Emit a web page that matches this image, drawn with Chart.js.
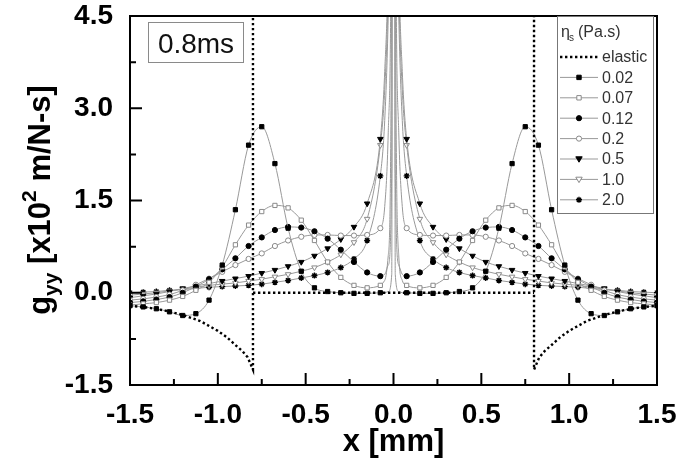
<!DOCTYPE html>
<html>
<head>
<meta charset="utf-8">
<script src="https://cdn.jsdelivr.net/npm/chart.js@4"></script>
<style>
  body { margin: 0; background: #fff; }
  canvas { display: block; }
</style>
</head>
<body>
<canvas id="chart" width="677" height="460"></canvas>
<script>
// shared x positions (mm); the points close to 0 only shape the central spike
const xGrid = [-1.5, -1.425, -1.35, -1.275, -1.2, -1.125, -1.05, -0.975, -0.9, -0.825,
    -0.75, -0.675, -0.6, -0.525, -0.45, -0.375, -0.3, -0.225, -0.15, -0.075,
    -0.05, -0.03, -0.01, 0, 0.01, 0.03, 0.05,
    0.075, 0.15, 0.225, 0.3, 0.375, 0.45, 0.525, 0.6, 0.675, 0.75,
    0.825, 0.9, 0.975, 1.05, 1.125, 1.2, 1.275, 1.35, 1.425, 1.5];

const eta002 = [-0.21, -0.23, -0.26, -0.31, -0.37, -0.34, -0.12, 0.45, 1.35, 2.4, 2.7, 2.1, 1.05, 0.35, 0.08, 0.02, 0.0, -0.01, -0.01, 0.0,
    0.0, 0.02, 0.3, 30, 0.3, 0.02, 0.0,
    0.0, -0.01, -0.01, 0.0, 0.02, 0.08, 0.35, 1.05, 2.1, 2.7, 2.4, 1.35, 0.45, -0.12, -0.34, -0.37, -0.31, -0.26, -0.23, -0.21];
const eta007 = [-0.2, -0.18, -0.16, -0.12, -0.06, 0.04, 0.17, 0.42, 0.78, 1.1, 1.32, 1.42, 1.38, 1.18, 0.85, 0.5, 0.25, 0.12, 0.08, 0.12,
    0.2, 0.6, 5.5, 30, 5.5, 0.6, 0.2,
    0.12, 0.08, 0.12, 0.25, 0.5, 0.85, 1.18, 1.38, 1.42, 1.32, 1.1, 0.78, 0.42, 0.17, 0.04, -0.06, -0.12, -0.16, -0.18, -0.2];
const eta012 = [-0.16, -0.14, -0.11, -0.07, 0.0, 0.1, 0.22, 0.38, 0.56, 0.76, 0.9, 1.02, 1.07, 1.06, 1.0, 0.88, 0.7, 0.5, 0.33, 0.27,
    0.3, 0.45, 2.0, 30, 2.0, 0.45, 0.3,
    0.27, 0.33, 0.5, 0.7, 0.88, 1.0, 1.06, 1.07, 1.02, 0.9, 0.76, 0.56, 0.38, 0.22, 0.1, 0.0, -0.07, -0.11, -0.14, -0.16];
const eta02 = [-0.12, -0.1, -0.07, -0.03, 0.04, 0.13, 0.23, 0.34, 0.45, 0.55, 0.64, 0.76, 0.85, 0.91, 0.94, 0.94, 0.93, 0.93, 0.94, 1.05,
    1.4, 2.6, 8, 30, 8, 2.6, 1.4,
    1.05, 0.94, 0.93, 0.93, 0.94, 0.94, 0.91, 0.85, 0.76, 0.64, 0.55, 0.45, 0.34, 0.23, 0.13, 0.04, -0.03, -0.07, -0.1, -0.12];
const eta05 = [-0.08, -0.05, -0.02, 0.02, 0.07, 0.11, 0.15, 0.19, 0.23, 0.27, 0.32, 0.37, 0.43, 0.5, 0.6, 0.72, 0.87, 1.07, 1.45, 2.5,
    3.6, 5.5, 12, 30, 12, 5.5, 3.6,
    2.5, 1.45, 1.07, 0.87, 0.72, 0.6, 0.5, 0.43, 0.37, 0.32, 0.27, 0.23, 0.19, 0.15, 0.11, 0.07, 0.02, -0.02, -0.05, -0.08];
const eta10 = [-0.04, -0.02, 0.0, 0.03, 0.06, 0.09, 0.12, 0.14, 0.16, 0.19, 0.22, 0.26, 0.3, 0.35, 0.41, 0.5, 0.62, 0.82, 1.2, 2.4,
    3.3, 5.0, 11, 30, 11, 5.0, 3.3,
    2.4, 1.2, 0.82, 0.62, 0.5, 0.41, 0.35, 0.3, 0.26, 0.22, 0.19, 0.16, 0.14, 0.12, 0.09, 0.06, 0.03, 0.0, -0.02, -0.04];
const eta20 = [0.0, 0.01, 0.02, 0.04, 0.05, 0.07, 0.09, 0.1, 0.11, 0.12, 0.14, 0.17, 0.2, 0.24, 0.28, 0.33, 0.41, 0.55, 0.85, 1.9,
    2.8, 4.5, 10, 30, 10, 4.5, 2.8,
    1.9, 0.85, 0.55, 0.41, 0.33, 0.28, 0.24, 0.2, 0.17, 0.14, 0.12, 0.11, 0.1, 0.09, 0.07, 0.05, 0.04, 0.02, 0.01, 0.0];

// elastic solution: null values break the dotted path
const elasticX = [-1.5, -1.4, -1.3, -1.2, -1.1, -1.0, -0.95, -0.9, -0.86, -0.83, -0.8, -0.8, -0.8, -0.8,
    0.8, 0.8, 0.8, 0.8, 0.83, 0.86, 0.9, 0.95, 1.0, 1.1, 1.2, 1.3, 1.4, 1.5];
const elasticY = [-0.21, -0.24, -0.29, -0.36, -0.46, -0.62, -0.72, -0.85, -0.95, -1.05, -1.25, 4.6, null, 0,
    0, null, 4.6, -1.25, -1.05, -0.95, -0.85, -0.72, -0.62, -0.46, -0.36, -0.29, -0.24, -0.21];

const seriesLabels = ['0.02', '0.07', '0.12', '0.2', '0.5', '1.0', '2.0'];
const seriesValues = [eta002, eta007, eta012, eta02, eta05, eta10, eta20];
const xTicks = [-1.5, -1.0, -0.5, 0.0, 0.5, 1.0, 1.5];
const yTicks = [-1.5, 0.0, 1.5, 3.0, 4.5];

const markerStyles = [
    { style: 'rect', fill: '#000', stroke: '#000', r: 3 },
    { style: 'rect', fill: '#fff', stroke: '#8a8a8a', r: 3 },
    { style: 'circle', fill: '#000', stroke: '#000', r: 2.6 },
    { style: 'circle', fill: '#fff', stroke: '#8a8a8a', r: 2.6 },
    { style: 'triangle', fill: '#000', stroke: '#000', r: 3.2 },
    { style: 'triangle', fill: '#fff', stroke: '#8a8a8a', r: 3.2 },
    { style: 'star', fill: '#000', stroke: '#000', r: 3 }
];

const lineGray = '#999';

const datasets = [{
    label: 'elastic',
    data: elasticX.map((x, i) => ({ x: x, y: elasticY[i] })),
    borderColor: '#000',
    borderWidth: 2.4,
    borderDash: [2.4, 2.6],
    pointRadius: 0,
    tension: 0,
    spanGaps: false,
    clip: 0
}];

seriesValues.forEach((vals, k) => {
    const m = markerStyles[k];
    datasets.push({
        label: seriesLabels[k],
        data: xGrid.map((x, i) => ({ x: x, y: vals[i] })),
        borderColor: lineGray,
        borderWidth: 1,
        cubicInterpolationMode: 'monotone',
        tension: 0.4,
        pointStyle: m.style,
        pointRotation: m.style === 'triangle' ? 180 : 0,
        pointBackgroundColor: m.fill,
        pointBorderColor: m.stroke,
        pointBorderWidth: m.style === 'star' ? 1.4 : 1,
        pointRadius: ctx => (ctx.raw && Math.abs(ctx.raw.x) < 0.06) ? 0 : m.r,
        clip: 0
    });
});

function drawMarker(ctx, m, x, y) {
    ctx.save();
    ctx.fillStyle = m.fill;
    ctx.strokeStyle = m.stroke;
    ctx.lineWidth = m.style === 'star' ? 1.4 : 1;
    ctx.beginPath();
    if (m.style === 'rect') {
        ctx.rect(x - 2.2, y - 2.2, 4.4, 4.4);
        ctx.fill(); ctx.stroke();
    } else if (m.style === 'circle') {
        ctx.arc(x, y, 2.6, 0, Math.PI * 2);
        ctx.fill(); ctx.stroke();
    } else if (m.style === 'triangle') {
        ctx.moveTo(x - 3.2, y - 2.2);
        ctx.lineTo(x + 3.2, y - 2.2);
        ctx.lineTo(x, y + 3.2);
        ctx.closePath();
        ctx.fill(); ctx.stroke();
    } else {
        for (let a = 0; a < 4; a++) {
            const t = a * Math.PI / 4;
            ctx.moveTo(x - 3 * Math.cos(t), y - 3 * Math.sin(t));
            ctx.lineTo(x + 3 * Math.cos(t), y + 3 * Math.sin(t));
        }
        ctx.stroke();
    }
    ctx.restore();
}

const decorations = {
    id: 'decorations',
    afterDraw(chart) {
        const { ctx, chartArea } = chart;
        const xs = chart.scales.x, ys = chart.scales.y;
        const L = chartArea.left, R = chartArea.right, T = chartArea.top, B = chartArea.bottom;
        ctx.save();

        // frame
        ctx.strokeStyle = '#000';
        ctx.lineWidth = 2;
        ctx.strokeRect(L, T, R - L, B - T);

        // inward ticks, major and minor
        ctx.beginPath();
        xTicks.forEach((v, i) => {
            const px = xs.getPixelForValue(v);
            ctx.moveTo(px, B); ctx.lineTo(px, B - 12);
            if (i < xTicks.length - 1) {
                const pm = xs.getPixelForValue(v + 0.25);
                ctx.moveTo(pm, B); ctx.lineTo(pm, B - 6);
            }
        });
        yTicks.forEach((v, i) => {
            const py = ys.getPixelForValue(v);
            ctx.moveTo(L, py); ctx.lineTo(L + 12, py);
            if (i < yTicks.length - 1) {
                const pm = ys.getPixelForValue(v + 0.75);
                ctx.moveTo(L, pm); ctx.lineTo(L + 6, pm);
            }
        });
        ctx.stroke();

        // tick labels
        ctx.fillStyle = '#000';
        ctx.font = 'bold 28px "Liberation Sans", Arial, sans-serif';
        ctx.textAlign = 'center';
        ctx.textBaseline = 'alphabetic';
        xTicks.forEach(v => ctx.fillText(v.toFixed(1), xs.getPixelForValue(v), B + 38));
        ctx.textAlign = 'right';
        ctx.textBaseline = 'middle';
        yTicks.forEach(v => ctx.fillText(v.toFixed(1), L - 17, ys.getPixelForValue(v)));

        // x title
        ctx.font = 'bold 31px "Liberation Sans", Arial, sans-serif';
        ctx.textAlign = 'center';
        ctx.textBaseline = 'alphabetic';
        ctx.fillText('x [mm]', (L + R) / 2, 451);

        // y title with sub/superscript
        const parts = [
            ['g', 31, 0], ['yy', 21, 8], [' [x10', 31, 0], ['2', 21, -14], [' m/N-s]', 31, 0]
        ];
        let total = 0;
        parts.forEach(p => {
            ctx.font = 'bold ' + p[1] + 'px "Liberation Sans", Arial, sans-serif';
            total += ctx.measureText(p[0]).width;
        });
        ctx.save();
        ctx.translate(50, 200);
        ctx.rotate(-Math.PI / 2);
        ctx.textAlign = 'left';
        let cx = -total / 2;
        parts.forEach(p => {
            ctx.font = 'bold ' + p[1] + 'px "Liberation Sans", Arial, sans-serif';
            ctx.fillText(p[0], cx, p[2]);
            cx += ctx.measureText(p[0]).width;
        });
        ctx.restore();

        // time label box
        ctx.fillStyle = '#fff';
        ctx.fillRect(148.5, 22.5, 95, 40);
        ctx.strokeStyle = '#8a8a8a';
        ctx.lineWidth = 1;
        ctx.strokeRect(148.5, 22.5, 95, 40);
        ctx.fillStyle = '#111';
        ctx.font = '28px "Liberation Sans", Arial, sans-serif';
        ctx.textAlign = 'center';
        ctx.fillText('0.8ms', 196, 53);

        // legend
        const lx = 557.5, ly = T + 0.5;
        ctx.fillStyle = '#fff';
        ctx.fillRect(lx, ly, 96, 197);
        ctx.strokeStyle = '#777';
        ctx.strokeRect(lx, ly, 96, 197);
        ctx.fillStyle = '#333';
        ctx.textAlign = 'left';
        ctx.textBaseline = 'middle';
        ctx.font = '16px "Liberation Sans", Arial, sans-serif';
        ctx.fillText('\u03b7', 561, 33);
        ctx.font = '10px "Liberation Sans", Arial, sans-serif';
        ctx.fillText('s', 569, 38);
        ctx.font = '16px "Liberation Sans", Arial, sans-serif';
        ctx.fillText('(Pa.s)', 578, 33);

        chart.data.datasets.forEach((ds, i) => {
            const ry = 57 + i * 20.4;
            ctx.save();
            if (i === 0) {
                ctx.strokeStyle = '#000';
                ctx.lineWidth = 2.4;
                ctx.setLineDash([2.4, 2.6]);
            } else {
                ctx.strokeStyle = lineGray;
                ctx.lineWidth = 1;
            }
            ctx.beginPath();
            ctx.moveTo(560, ry); ctx.lineTo(598, ry);
            ctx.stroke();
            ctx.restore();
            if (i > 0) drawMarker(ctx, markerStyles[i - 1], 579, ry);
            ctx.fillStyle = '#333';
            ctx.fillText(ds.label, 602, ry + 1);
        });

        ctx.restore();
    }
};

new Chart(document.getElementById('chart').getContext('2d'), {
    type: 'line',
    data: { datasets: datasets },
    options: {
        responsive: false,
        animation: false,
        devicePixelRatio: 1,
        layout: { padding: { left: 0, top: 16, right: 20, bottom: 0 } },
        plugins: {
            legend: { display: false },
            tooltip: { enabled: false }
        },
        scales: {
            x: {
                type: 'linear',
                min: -1.5,
                max: 1.5,
                grid: { display: false },
                border: { display: false },
                ticks: { display: false, stepSize: 0.5 },
                afterFit(scale) { scale.height = 75; }
            },
            y: {
                min: -1.5,
                max: 4.5,
                grid: { display: false },
                border: { display: false },
                ticks: { display: false, stepSize: 1.5 },
                afterFit(scale) { scale.width = 130; }
            }
        }
    },
    plugins: [decorations]
});
</script>
</body>
</html>
